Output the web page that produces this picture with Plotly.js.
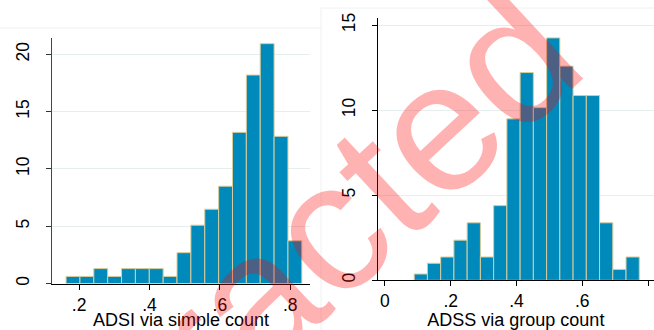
<!DOCTYPE html>
<html>
<head>
<meta charset="utf-8">
<script src="https://cdn.plot.ly/plotly-3.0.1.min.js"></script>
<style>
  html, body { margin: 0; padding: 0; background: #fff; }
  #chart { width: 654px; height: 330px; }
</style>
</head>
<body>
<div id="chart"></div>
<script>
// ADSI via simple count: percent of observations per bin
const adsiBinStart = 0.163;
const adsiBinWidth = 0.0394;
const adsiPercent = [0.62, 0.62, 1.30, 0.62, 1.30, 1.30, 1.30, 0.62, 2.69,
                     5.09, 6.48, 8.49, 13.19, 18.19, 20.93, 12.84, 3.73];

// ADSS via group count: percent of observations per bin
const adssBinStart = 0.089;
const adssBinWidth = 0.04025;
const adssPercent = [0.37, 1.00, 1.37, 2.36, 3.38, 1.37, 4.39, 9.49, 12.21,
                     10.15, 14.25, 12.59, 10.86, 10.86, 3.38, 0.64, 1.37];

// tick labels (Stata style, no leading zero)
const adsiTickVals = [0.2, 0.4, 0.6, 0.8];
const adsiTickText = ['.2', '.4', '.6', '.8'];
const adssTickVals = [0, 0.2, 0.4, 0.6, 0.8];
const adssTickText = ['0', '.2', '.4', '.6', '.8'];
const adsiYTicks = [0, 5, 10, 15, 20];
const adssYTicks = [0, 5, 10, 15];

const watermark = 'Retracted';

function centers(start, width, n) {
  return Array.from({length: n}, (_, i) => start + (i + 0.5) * width);
}

const barFill = '#0089bb';
const barEdge = '#d8cd9c';
const grid = '#e6eff0';
const font = 'Liberation Sans, Arial, sans-serif';

const traces = [
  {
    type: 'bar',
    x: centers(adsiBinStart, adsiBinWidth, adsiPercent.length),
    y: adsiPercent,
    width: adsiBinWidth,
    marker: {color: barFill, line: {color: barEdge, width: 1}},
    xaxis: 'x', yaxis: 'y',
    hoverinfo: 'x+y'
  },
  {
    type: 'bar',
    x: centers(adssBinStart, adssBinWidth, adssPercent.length),
    y: adssPercent,
    width: adssBinWidth,
    marker: {color: barFill, line: {color: barEdge, width: 1}},
    xaxis: 'x2', yaxis: 'y2',
    hoverinfo: 'x+y'
  }
];

const tickFont = {family: font, size: 17.5, color: '#000'};
const titleFont = {family: font, size: 18, color: '#000'};

const layout = {
  width: 654, height: 330,
  margin: {l: 0, r: 0, t: 0, b: 0},
  paper_bgcolor: '#fff',
  plot_bgcolor: 'rgba(0,0,0,0)',
  showlegend: false,
  bargap: 0,
  font: {family: font, size: 17.5, color: '#000'},
  xaxis: {
    domain: [0.0795, 0.474], range: [0.123, 0.856],
    tickvals: adsiTickVals, ticktext: adsiTickText,
    ticks: 'outside', ticklen: 5, tickcolor: '#000',
    showline: true, linecolor: '#000', linewidth: 1,
    showgrid: false, zeroline: false,
    tickfont: tickFont,
    title: {text: 'ADSI via simple count', font: titleFont, standoff: 0},
    anchor: 'y'
  },
  yaxis: {
    domain: [0.1409, 0.8858], range: [0, 21.45],
    tickvals: adsiYTicks, ticktext: adsiYTicks.map(String),
    ticks: 'outside', ticklen: 5, tickcolor: '#333', tickangle: -90,
    ticklabelstandoff: 10,
    showline: true, linecolor: '#444', linewidth: 1,
    showgrid: true, gridcolor: grid, gridwidth: 1, zeroline: false,
    tickfont: tickFont,
    anchor: 'x'
  },
  xaxis2: {
    domain: [0.5775, 1], range: [-0.022, 0.818],
    tickvals: adssTickVals, ticktext: adssTickText,
    ticks: 'outside', ticklen: 5, tickcolor: '#000',
    showline: true, linecolor: '#000', linewidth: 1,
    showgrid: false, zeroline: false,
    tickfont: tickFont,
    title: {text: 'ADSS via group count', font: titleFont, standoff: 0},
    anchor: 'y2'
  },
  yaxis2: {
    domain: [0.1506, 0.9445], range: [0, 15.4],
    tickvals: adssYTicks, ticktext: adssYTicks.map(String),
    ticks: 'outside', ticklen: 5, tickcolor: '#000', tickangle: -90,
    ticklabelstandoff: 10,
    showline: true, linecolor: '#000', linewidth: 1,
    showgrid: true, gridcolor: grid, gridwidth: 1, zeroline: false,
    tickfont: tickFont,
    anchor: 'x2'
  },
  shapes: [
    // faint outlines of the two graph regions
    {type: 'line', xref: 'paper', yref: 'paper', x0: 0, x1: 321 / 654, y0: 302 / 330, y1: 302 / 330,
     line: {color: '#eef1f1', width: 1}},
    {type: 'line', xref: 'paper', yref: 'paper', x0: 321 / 654, x1: 321 / 654, y0: 0, y1: 322 / 330,
     line: {color: '#eef1f1', width: 1}},
    {type: 'line', xref: 'paper', yref: 'paper', x0: 321 / 654, x1: 1, y0: 322 / 330, y1: 322 / 330,
     line: {color: '#eef1f1', width: 1}}
  ],
  annotations: [
    {
      text: watermark, xref: 'paper', yref: 'paper',
      x: 255 / 654, y: (330 - 297) / 330, xanchor: 'center', yanchor: 'middle',
      textangle: -43, showarrow: false,
      font: {family: font, size: 185, color: 'rgba(255,0,0,0.3)'}
    }
  ]
};

Plotly.newPlot('chart', traces, layout, {staticPlot: true, displayModeBar: false});
</script>
</body>
</html>
